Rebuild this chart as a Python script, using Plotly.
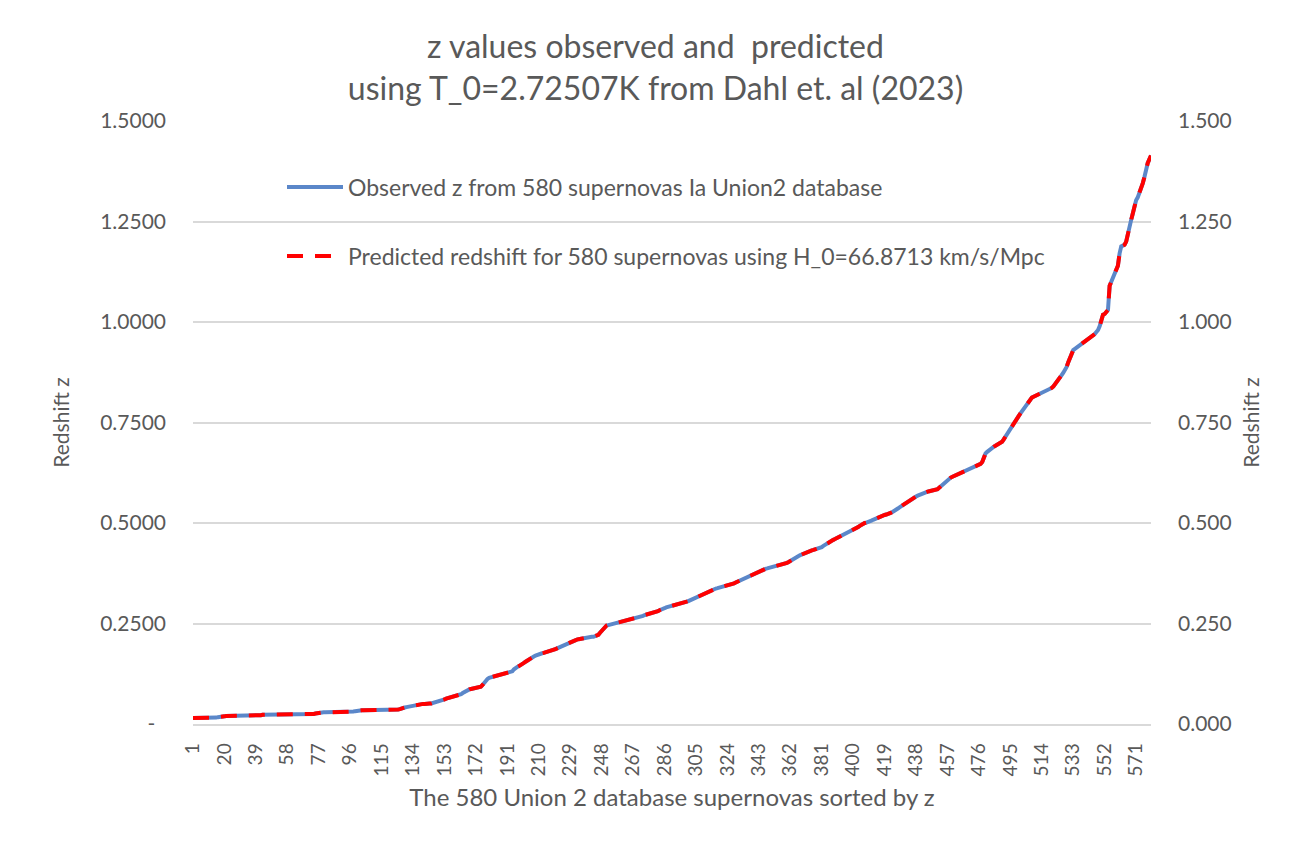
import plotly.graph_objects as go

# Observed z (sorted) for the 580 Union2 supernovae
observed_z = [
    0.015, 0.015, 0.014, 0.014, 0.014, 0.015, 0.015, 0.015, 0.015, 0.016,
    0.016, 0.016, 0.016, 0.016, 0.016, 0.017, 0.017, 0.018, 0.019, 0.019,
    0.020, 0.020, 0.020, 0.020, 0.020, 0.020, 0.020, 0.020, 0.020, 0.020,
    0.020, 0.020, 0.021, 0.021, 0.021, 0.021, 0.021, 0.021, 0.021, 0.021,
    0.021, 0.022, 0.023, 0.023, 0.024, 0.024, 0.024, 0.024, 0.024, 0.024,
    0.024, 0.024, 0.024, 0.024, 0.024, 0.024, 0.024, 0.024, 0.024, 0.024,
    0.024, 0.025, 0.025, 0.025, 0.025, 0.025, 0.025, 0.025, 0.025, 0.025,
    0.025, 0.025, 0.025, 0.025, 0.026, 0.027, 0.028, 0.029, 0.029, 0.029,
    0.029, 0.029, 0.029, 0.029, 0.029, 0.029, 0.029, 0.029, 0.029, 0.029,
    0.029, 0.030, 0.030, 0.030, 0.030, 0.030, 0.030, 0.031, 0.032, 0.033,
    0.034, 0.034, 0.034, 0.034, 0.034, 0.034, 0.034, 0.034, 0.034, 0.034,
    0.034, 0.034, 0.034, 0.034, 0.034, 0.034, 0.035, 0.035, 0.035, 0.035,
    0.035, 0.035, 0.035, 0.035, 0.036, 0.037, 0.039, 0.040, 0.041, 0.042,
    0.043, 0.044, 0.045, 0.046, 0.047, 0.048, 0.048, 0.049, 0.049, 0.050,
    0.050, 0.051, 0.051, 0.051, 0.051, 0.052, 0.053, 0.054, 0.055, 0.057,
    0.058, 0.060, 0.061, 0.063, 0.064, 0.065, 0.066, 0.068, 0.069, 0.070,
    0.071, 0.072, 0.074, 0.077, 0.080, 0.083, 0.085, 0.086, 0.087, 0.088,
    0.089, 0.090, 0.091, 0.092, 0.093, 0.097, 0.103, 0.108, 0.112, 0.115,
    0.116, 0.117, 0.118, 0.119, 0.120, 0.121, 0.122, 0.123, 0.124, 0.125,
    0.126, 0.127, 0.128, 0.131, 0.136, 0.140, 0.142, 0.144, 0.146, 0.149,
    0.152, 0.155, 0.158, 0.161, 0.164, 0.166, 0.168, 0.170, 0.172, 0.174,
    0.175, 0.176, 0.177, 0.178, 0.179, 0.180, 0.181, 0.182, 0.184, 0.186,
    0.188, 0.190, 0.192, 0.194, 0.196, 0.198, 0.200, 0.202, 0.204, 0.206,
    0.208, 0.209, 0.210, 0.211, 0.212, 0.213, 0.214, 0.215, 0.215, 0.216,
    0.216, 0.217, 0.217, 0.218, 0.219, 0.222, 0.227, 0.232, 0.237, 0.242,
    0.245, 0.246, 0.247, 0.248, 0.249, 0.250, 0.251, 0.252, 0.253, 0.254,
    0.255, 0.256, 0.257, 0.258, 0.259, 0.260, 0.261, 0.262, 0.263, 0.265,
    0.266, 0.268, 0.269, 0.271, 0.272, 0.274, 0.275, 0.276, 0.277, 0.279,
    0.280, 0.281, 0.283, 0.284, 0.286, 0.288, 0.290, 0.291, 0.293, 0.294,
    0.295, 0.296, 0.297, 0.298, 0.299, 0.300, 0.301, 0.302, 0.303, 0.305,
    0.307, 0.309, 0.311, 0.313, 0.315, 0.317, 0.318, 0.320, 0.322, 0.324,
    0.326, 0.328, 0.330, 0.332, 0.334, 0.336, 0.337, 0.338, 0.339, 0.340,
    0.341, 0.342, 0.343, 0.344, 0.345, 0.346, 0.348, 0.350, 0.352, 0.354,
    0.356, 0.358, 0.360, 0.362, 0.364, 0.366, 0.368, 0.370, 0.372, 0.374,
    0.376, 0.378, 0.380, 0.382, 0.384, 0.385, 0.386, 0.387, 0.388, 0.390,
    0.391, 0.393, 0.394, 0.395, 0.396, 0.397, 0.398, 0.399, 0.400, 0.401,
    0.403, 0.406, 0.409, 0.412, 0.414, 0.416, 0.418, 0.420, 0.422, 0.424,
    0.426, 0.428, 0.430, 0.431, 0.432, 0.433, 0.434, 0.435, 0.436, 0.438,
    0.440, 0.443, 0.446, 0.449, 0.452, 0.454, 0.456, 0.458, 0.460, 0.462,
    0.464, 0.466, 0.468, 0.470, 0.472, 0.474, 0.476, 0.478, 0.480, 0.482,
    0.484, 0.487, 0.490, 0.493, 0.496, 0.498, 0.500, 0.501, 0.502, 0.504,
    0.506, 0.508, 0.510, 0.512, 0.514, 0.516, 0.518, 0.519, 0.520, 0.521,
    0.522, 0.524, 0.526, 0.528, 0.530, 0.533, 0.536, 0.539, 0.542, 0.545,
    0.548, 0.550, 0.552, 0.555, 0.558, 0.561, 0.564, 0.566, 0.568, 0.570,
    0.572, 0.574, 0.576, 0.577, 0.578, 0.579, 0.580, 0.581, 0.581, 0.582,
    0.584, 0.588, 0.592, 0.596, 0.600, 0.604, 0.608, 0.611, 0.613, 0.615,
    0.617, 0.619, 0.621, 0.623, 0.625, 0.627, 0.628, 0.630, 0.632, 0.634,
    0.636, 0.638, 0.640, 0.641, 0.643, 0.645, 0.647, 0.652, 0.663, 0.673,
    0.677, 0.681, 0.684, 0.687, 0.690, 0.692, 0.694, 0.696, 0.699, 0.702,
    0.708, 0.715, 0.722, 0.729, 0.736, 0.742, 0.748, 0.754, 0.760, 0.766,
    0.772, 0.778, 0.784, 0.790, 0.796, 0.802, 0.807, 0.812, 0.814, 0.816,
    0.818, 0.820, 0.822, 0.824, 0.825, 0.826, 0.828, 0.830, 0.833, 0.836,
    0.840, 0.845, 0.850, 0.856, 0.862, 0.868, 0.874, 0.880, 0.888, 0.900,
    0.912, 0.922, 0.930, 0.933, 0.936, 0.939, 0.942, 0.945, 0.948, 0.951,
    0.953, 0.955, 0.958, 0.962, 0.966, 0.970, 0.975, 0.980, 0.990, 1.005,
    1.018, 1.020, 1.024, 1.030, 1.090, 1.100, 1.115, 1.125, 1.130, 1.140,
    1.170, 1.188, 1.190, 1.192, 1.200, 1.215, 1.235, 1.254, 1.270, 1.290,
    1.303, 1.310, 1.320, 1.330, 1.345, 1.360, 1.380, 1.395, 1.405, 1.414,
]

# Predicted z overlaps the observed curve everywhere in the picture
predicted_z = list(observed_z)

sn_index = list(range(1, len(observed_z) + 1))
x_tick_vals = list(range(1, 581, 19))
x_tick_text = [str(v) for v in x_tick_vals]
y_tick_vals = [0, 0.25, 0.5, 0.75, 1.0, 1.25, 1.5]
y_left_text = ["-\u00a0\u00a0", "0.2500", "0.5000", "0.7500", "1.0000", "1.2500", "1.5000"]
y_right_text = ["0.000", "0.250", "0.500", "0.750", "1.000", "1.250", "1.500"]

GREY = "#595959"
FONT = "Lato"

# The page body adds an 8px offset; figure is sized so plot area lands where the reference has it
W, H = 1295, 853
L, R, T, B = 185, 152, 113, 137

fig = go.Figure()
fig.add_trace(go.Scatter(
    x=sn_index, y=observed_z, mode="lines",
    name="Observed z from 580 supernovas Ia Union2 database",
    line=dict(color="#5B87C9", width=4), legend="legend",
))
fig.add_trace(go.Scatter(
    x=sn_index, y=predicted_z, mode="lines",
    name="Predicted redshift for 580 supernovas using H_0=66.8713 km/s/Mpc",
    line=dict(color="#FF0000", width=4, dash="16px,12px"), legend="legend2",
    yaxis="y2",
))

pw = W - L - R
ph = H - T - B

fig.update_layout(
    width=W, height=H,
    margin=dict(l=L, r=R, t=T, b=B),
    paper_bgcolor="white", plot_bgcolor="white",
    font=dict(family=FONT, color=GREY, size=21),
    title=dict(
        text="z values observed and  predicted<br>using T_0=2.72507K from Dahl et. al (2023)",
        x=0.5, xanchor="center", y=1 - 50 / H, yanchor="top",
        font=dict(family=FONT, size=32, color=GREY),
    ),
    xaxis=dict(
        range=[1, 580], tickmode="array", tickvals=x_tick_vals, ticktext=x_tick_text,
        tickangle=-90, tickfont=dict(size=19, color=GREY), ticklabelstandoff=10,
        showgrid=False, zeroline=False, showline=True, linecolor="#d9d9d9", linewidth=1.5,
        ticks="", title=dict(text="The 580 Union 2 database supernovas sorted by z",
                             font=dict(size=24, color=GREY), standoff=14),
    ),
    yaxis=dict(
        range=[0, 1.5], tickmode="array", tickvals=y_tick_vals, ticktext=y_left_text,
        tickfont=dict(size=21, color=GREY), ticklabelstandoff=26,
        showgrid=True, gridcolor="#d9d9d9", gridwidth=1.5,
        zeroline=False, showline=False, ticks="",
        title=dict(text="Redshift z", font=dict(size=21, color=GREY), standoff=24),
    ),
    yaxis2=dict(
        range=[0, 1.5], overlaying="y", side="right", tickmode="array",
        tickvals=y_tick_vals, ticktext=y_right_text, ticklabelstandoff=26,
        tickfont=dict(size=21, color=GREY), showgrid=False, zeroline=False, showline=False,
        title=dict(text="Redshift z", font=dict(size=21, color=GREY), standoff=13),
    ),
    legend=dict(x=(282 - 193) / pw, y=(724 - 187) / ph, xanchor="left", yanchor="middle",
                itemwidth=56, bgcolor="rgba(0,0,0,0)", font=dict(size=23, color=GREY)),
    legend2=dict(x=(282 - 193) / pw, y=(724 - 256) / ph, xanchor="left", yanchor="middle",
                 itemwidth=56, bgcolor="rgba(0,0,0,0)", font=dict(size=23, color=GREY)),
    showlegend=True,
    shapes=[
        dict(type="line", xref="paper", yref="paper",
             x0=(1299 - 8 - L) / pw, x1=(1299 - 8 - L) / pw,
             y0=-B / ph + 0.001, y1=1 + T / ph - 0.001,
             line=dict(color="#d9d9d9", width=1.5), layer="above"),
    ],
)

fig.write_html("out.html")
